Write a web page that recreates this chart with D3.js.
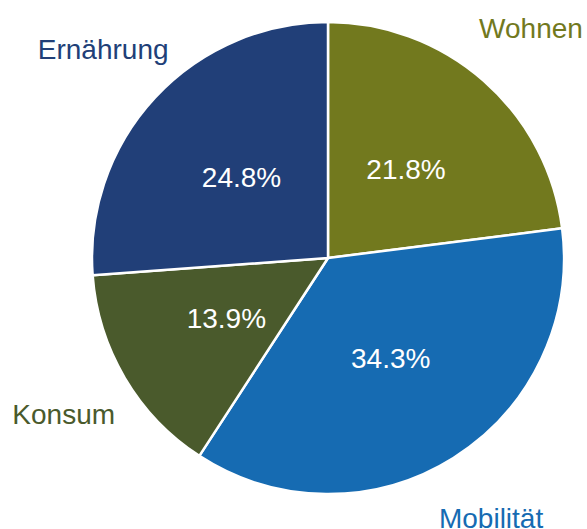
<!DOCTYPE html>
<html>
<head>
<meta charset="utf-8">
<script src="https://cdn.jsdelivr.net/npm/d3@7"></script>
<style>
  body { margin: 0; background: #fff; }
  svg text { font-family: "Liberation Sans", Arial, sans-serif; }
</style>
</head>
<body>
<div id="chart"></div>
<script>
  // data (clockwise from 12 o'clock)
  const categories = ['Wohnen', 'Mobilität', 'Konsum', 'Ernährung'];
  const shares = [21.8, 34.3, 13.9, 24.8];
  const colors = ['#72791e', '#166bb2', '#4a5a2c', '#213f78'];

  const width = 587;
  const height = 529;
  const cx = 328, cy = 258;
  const radius = 236;

  const svg = d3.select('#chart')
              .append('svg')
              .attr('width', width)
              .attr('height', height);

  const g = svg.append('g').attr('transform', 'translate(' + cx + ',' + cy + ')');

  const data = categories.map((c, i) => ({ name: c, value: shares[i], color: colors[i] }));

  const pie = d3.pie().sort(null).value(d => d.value);
  const arc = d3.arc().innerRadius(0).outerRadius(radius);
  const outerArc = d3.arc().innerRadius(307).outerRadius(307);

  const arcs = pie(data);

  g.selectAll('path')
   .data(arcs)
   .enter()
   .append('path')
   .attr('d', arc)
   .attr('fill', d => d.data.color)
   .attr('stroke', '#fff')
   .attr('stroke-width', 2.5)
   .attr('stroke-linejoin', 'round');

  //percent labels
  g.selectAll('.pct')
   .data(arcs)
   .enter()
   .append('text')
   .attr('class', 'pct')
   .attr('transform', d => 'translate(' + arc.centroid(d) + ')')
   .attr('text-anchor', 'middle')
   .attr('dy', '0.35em')
   .attr('font-size', 28)
   .attr('fill', '#fff')
   .text(d => d.data.value.toFixed(1) + '%');

  //category labels
  g.selectAll('.cat')
   .data(arcs)
   .enter()
   .append('text')
   .attr('class', 'cat')
   .attr('transform', d => 'translate(' + outerArc.centroid(d) + ')')
   .attr('text-anchor', 'middle')
   .attr('dy', '0.35em')
   .attr('font-size', 28)
   .attr('fill', d => d.data.color)
   .text(d => d.data.name);
</script>
</body>
</html>
